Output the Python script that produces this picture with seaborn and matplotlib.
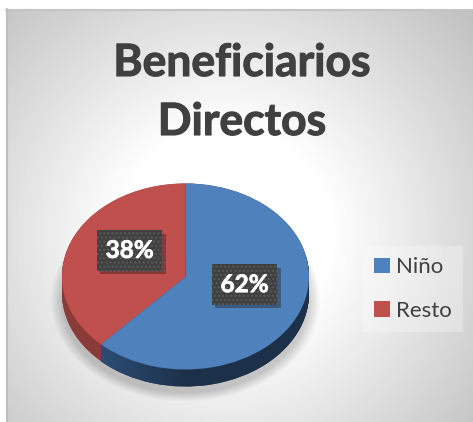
import numpy as np
import matplotlib
matplotlib.use("Agg")
import matplotlib.pyplot as plt
import matplotlib.patheffects as pe
import seaborn as sns
from matplotlib.path import Path
from matplotlib.patches import PathPatch

categories = ["Niño", "Resto"]
values = [62, 38]
title_lines = ["Beneficiarios", "Directos"]
top_colors = ["#4F81BD", "#C0504D"]
side_dark = ["#1D3049", "#8A3A38"]

sns.set_theme(style="white")
plt.rcParams["font.family"] = ["Lato", "DejaVu Sans"]
palette = sns.color_palette(top_colors)

W, H = 473, 422
fig = plt.figure(figsize=(W / 100, H / 100), dpi=100, facecolor="white")

# panel background
bg = fig.add_axes([0, 0, 1, 1], zorder=0)
bg.set_xlim(0, W); bg.set_ylim(H, 0); bg.axis("off")
xx, yy = np.meshgrid(np.arange(6.5, W), np.arange(9.5, H))
d = np.hypot(xx - 225, yy - 235)
shade = 1 - np.clip((d - 105) / 230, 0, 1) * 0.25
bg.imshow(shade, extent=(6, W, H, 9), cmap="gray", vmin=0, vmax=1, aspect="auto", interpolation="bilinear")
bg.set_xlim(0, W); bg.set_ylim(H, 0)
bg.plot([6.5, 6.5], [9, H], color="#bdbdbd", lw=1.5)
bg.plot([6, W], [9.5, 9.5], color="#c4c4c4", lw=1.5)

# pie axes: one data unit = the ellipse radii
cx, cy, rx, ry = 185.5, 276.5, 123.5, 93.0
ax = fig.add_axes([0, 0, 1, 1], zorder=1)
ax.patch.set_alpha(0)

depth = 17 / ry
kw = dict(startangle=90, counterclock=False, radius=1, wedgeprops=dict(linewidth=0))

# soft shadow
for g in np.linspace(1.09, 1.0, 12):
    ws, _ = ax.pie(values, colors=["black", "black"], center=(0, -depth - 0.07), radius=g,
                   startangle=90, counterclock=False, wedgeprops=dict(linewidth=0, alpha=0.014))
    for w in ws:
        w.set_zorder(1)

# extruded side
layers = []
for off in np.linspace(depth, 0, 18):
    ws, _ = ax.pie(values, colors=side_dark, center=(0, -off), **kw)
    for w in ws:
        w.set_zorder(2)
    layers.append(ws)

wedges, _, autotexts = ax.pie(values, colors=palette, autopct="%.0f%%", pctdistance=0.5, **kw)
for w in wedges:
    w.set_zorder(5)

ax.set_aspect("auto")
ax.set_xlim(-cx / rx, (W - cx) / rx)
ax.set_ylim((cy - H) / ry, cy / ry)
ax.axis("off")

# horizontal gradient on the side of the blue slice
paths = [w.get_path().transformed(w.get_patch_transform()) for ws in layers for w in ws[:1]]
compound = Path.make_compound_path(*paths)
clip = PathPatch(compound, transform=ax.transData, fc="none", ec="none")
ax.add_patch(clip)
grad = np.clip(np.linspace(0, 1, 200) / 0.5, 0, 1)[None, :]
c0, c1 = np.array([0x33, 0x5A, 0x88]) / 255, np.array(matplotlib.colors.to_rgb(side_dark[0]))
img = c0[None, None, :] * (1 - grad[..., None]) + c1[None, None, :] * grad[..., None]
im = ax.imshow(img, extent=(-1, 1, -1.3, 0.2), aspect="auto", zorder=3, interpolation="bilinear")
im.set_clip_path(clip)
ax.set_aspect("auto")
ax.set_xlim(-cx / rx, (W - cx) / rx)
ax.set_ylim((cy - H) / ry, cy / ry)

# percentage labels
for t in autotexts:
    x, y = t.get_position()
    t.set_position((x + 1.5 / rx, y + 9 / ry))
    t.set_color("white")
    t.set_fontsize(17.5)
    t.set_fontweight("bold")
    t.set_zorder(8)
    t.set_path_effects([pe.withStroke(linewidth=0.5, foreground="white")])
    t.set_bbox(dict(boxstyle="square,pad=0.36", fc="#404040", ec="#5a5a5a", lw=0, hatch="...."))
    t.get_bbox_patch().set_path_effects([
        pe.SimplePatchShadow(offset=(2.5, -2.5), shadow_rgbFace="black", alpha=0.3),
        pe.Normal(),
    ])

# title
for label, py in zip(title_lines, (63, 122)):
    fig.text(242 / W, 1 - py / H, label, ha="center", va="center", fontsize=32, fontweight="bold",
             color="#404040", zorder=5, path_effects=[pe.withStroke(linewidth=0.8, foreground="#404040")])

# legend
leg = ax.legend(wedges, categories, loc="center", bbox_to_anchor=(413 / W, 1 - 289 / H), bbox_transform=fig.transFigure,
                frameon=True, fancybox=False, framealpha=0.28, facecolor="white", edgecolor="none",
                fontsize=16, labelcolor="#404040", handlelength=0.72, handleheight=0.72, handletextpad=0.28,
                labelspacing=1.05, borderpad=0.5, borderaxespad=0)
leg.set_zorder(6)

fig.savefig("out.png", dpi=100)
